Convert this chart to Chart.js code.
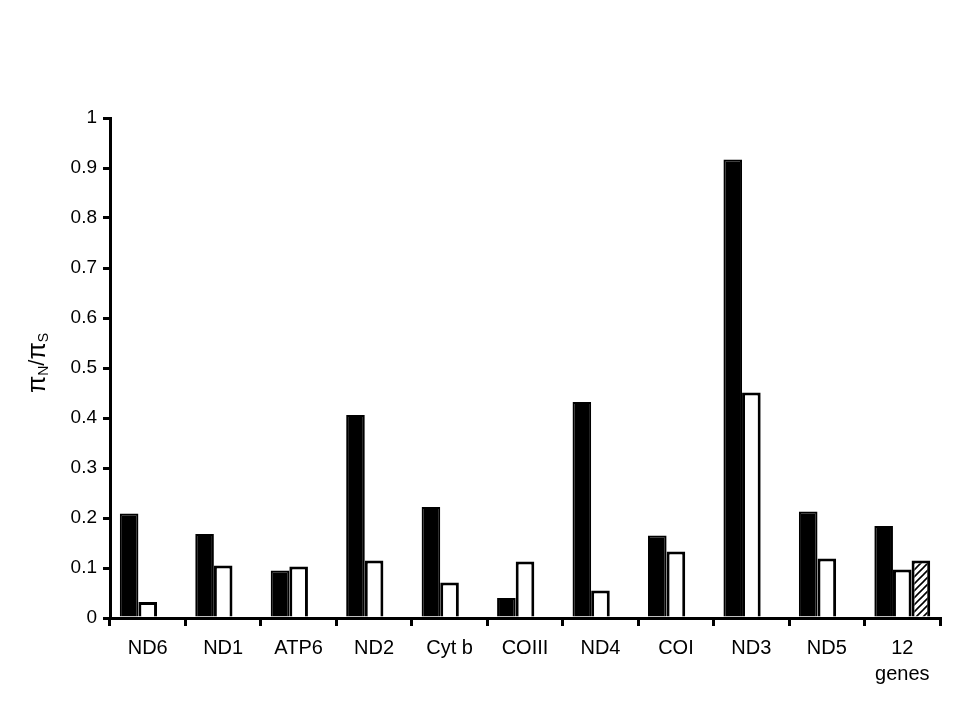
<!DOCTYPE html>
<html>
<head>
<meta charset="utf-8">
<script src="https://cdn.jsdelivr.net/npm/chart.js@4"></script>
<style>
  body { margin: 0; background: #fff; }
  #wrap { width: 960px; height: 720px; }
</style>
</head>
<body>
<div id="wrap"><canvas id="chart" width="960" height="720"></canvas></div>
<script>
const genes = ['ND6', 'ND1', 'ATP6', 'ND2', 'Cyt b', 'COIII', 'ND4', 'COI', 'ND3', 'ND5', ['12', 'genes']];
const blackValues = [0.209, 0.168, 0.095, 0.406, 0.222, 0.040, 0.432, 0.165, 0.917, 0.213, 0.184];
const whiteValues = [0.032, 0.105, 0.103, 0.115, 0.071, 0.113, 0.055, 0.133, 0.451, 0.119, 0.097];
const hatchValues = [null, null, null, null, null, null, null, null, null, null, 0.115];
const yTicks = [0, 0.1, 0.2, 0.3, 0.4, 0.5, 0.6, 0.7, 0.8, 0.9, 1];

// diagonal hatch for the last bar
function makeHatch() {
  const c = document.createElement('canvas');
  c.width = 7; c.height = 7;
  const g = c.getContext('2d');
  g.fillStyle = '#fff';
  g.fillRect(0, 0, 7, 7);
  g.strokeStyle = '#000';
  g.lineWidth = 1.6;
  g.beginPath();
  g.moveTo(-1, 8); g.lineTo(8, -1);
  g.moveTo(-1, 1); g.lineTo(1, -1);
  g.moveTo(6, 8); g.lineTo(8, 6);
  g.stroke();
  return g.createPattern(c, 'repeat');
}

// y title with subscripts: πN / πS
const yTitle = {
  id: 'yTitle',
  afterDraw(chart) {
    const ctx = chart.ctx;
    const parts = [
      { t: 'π', f: '25px "Liberation Sans"', dy: 0 },
      { t: 'N', f: '14px "Liberation Sans"', dy: 6 },
      { t: '/', f: '22px "Liberation Sans"', dy: 0 },
      { t: 'π', f: '25px "Liberation Sans"', dy: 0 },
      { t: 'S', f: '14px "Liberation Sans"', dy: 6 }
    ];
    ctx.save();
    let total = 0;
    parts.forEach(p => { ctx.font = p.f; p.w = ctx.measureText(p.t).width; total += p.w; });
    ctx.translate(38, 363);
    ctx.rotate(-Math.PI / 2);
    ctx.fillStyle = '#000';
    ctx.textBaseline = 'middle';
    let x = -total / 2;
    parts.forEach(p => { ctx.font = p.f; ctx.fillText(p.t, x, p.dy); x += p.w; });
    ctx.restore();
  }
};

new Chart(document.getElementById('chart'), {
  type: 'bar',
  data: {
    labels: genes,
    datasets: [
      { data: blackValues, backgroundColor: '#000', borderColor: '#000', borderWidth: 2 },
      { data: whiteValues, backgroundColor: '#fff', borderColor: '#000', borderWidth: 3 },
      { data: hatchValues, backgroundColor: makeHatch(), borderColor: '#000', borderWidth: 3 }
    ]
  },
  options: {
    responsive: false,
    animation: false,
    layout: { padding: { left: 0, right: 20, top: 118, bottom: 0 } },
    datasets: { bar: { categoryPercentage: 0.74, barPercentage: 1.0 } },
    plugins: { legend: { display: false }, tooltip: { enabled: false } },
    scales: {
      x: {
        offset: true,
        grid: { display: true, offset: true, drawOnChartArea: false, color: '#000', lineWidth: 3, tickLength: 8 },
        border: { display: true, color: '#000', width: 3 },
        ticks: { color: '#000', font: { family: '"Liberation Sans"', size: 20, lineHeight: 1.3 }, padding: 9, maxRotation: 0, autoSkip: false },
        afterFit(scale) { scale.height = 102; }
      },
      y: {
        min: 0,
        max: 1,
        afterBuildTicks(scale) { scale.ticks = yTicks.map(v => ({ value: v })); },
        grid: { display: true, drawOnChartArea: false, color: '#000', lineWidth: 3, tickLength: 7 },
        border: { display: true, color: '#000', width: 3 },
        ticks: { color: '#000', font: { family: '"Liberation Sans"', size: 19 }, padding: 6, callback: v => String(v) },
        afterFit(scale) { scale.width = 110; }
      }
    }
  },
  plugins: [yTitle]
});
</script>
</body>
</html>
